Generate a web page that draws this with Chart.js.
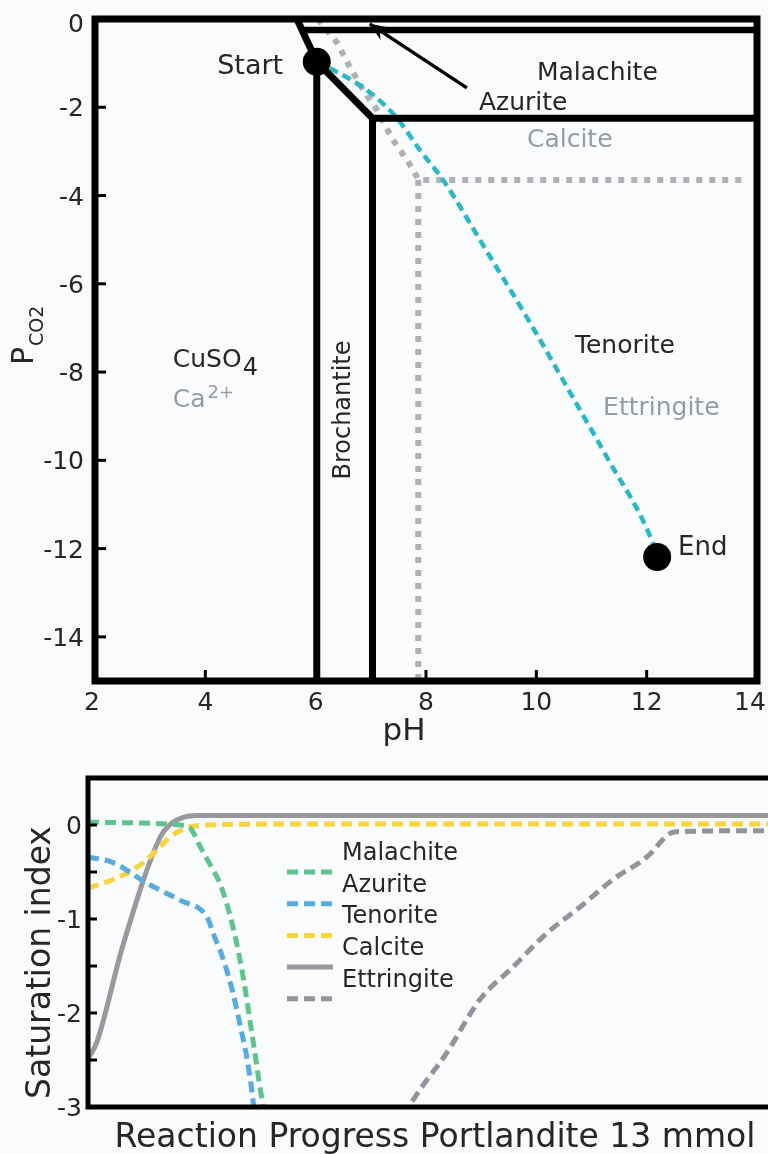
<!DOCTYPE html>
<html><head><meta charset="utf-8">
<script src="https://cdn.jsdelivr.net/npm/chart.js@4/dist/chart.umd.min.js"></script>
<style>
html,body{margin:0;padding:0;background:#fafbfc;overflow:hidden;width:768px;height:1154px;}
#c1{position:absolute;left:0;top:0;}
#c2{position:absolute;left:0;top:760px;}
</style></head><body>
<canvas id="c1" width="772" height="760"></canvas>
<canvas id="c2" width="768" height="394"></canvas>
<script>
// ---------- top chart: phase diagram (pH vs log PCO2) ----------
const pHTicks = [2, 4, 6, 8, 10, 12, 14];
const pco2Ticks = [0, -2, -4, -6, -8, -10, -12, -14];

// black copper phase boundaries
const cuTopPH = [5.66, 6.02];           const cuTopP = [0, -0.97];
const azMalPH = [5.75, 14];             const azMalP = [-0.25, -0.25];
const brochLeftPH = [6.02, 6.02];       const brochLeftP = [-0.97, -15];
const brochTopPH = [6.02, 7.03, 14];    const brochTopP = [-0.97, -2.25, -2.25];
const brochRightPH = [7.03, 7.03];      const brochRightP = [-2.25, -15];
// grey dotted calcium phase boundaries
const caDiagPH = [6.04, 6.39, 6.62, 6.86, 7.11, 7.40, 7.66, 7.87, 13.82];
const caDiagP  = [0, -0.54, -1.09, -1.61, -2.06, -2.74, -3.20, -3.65, -3.65];
const caVertPH = [7.86, 7.86];          const caVertP = [-3.65, -15];
// reaction path (cyan)
const pathPH = [6.02, 6.21, 6.62, 7.04, 7.47, 7.89, 8.31, 9.11, 9.89, 10.66, 11.28, 12.11, 12.19];
const pathP  = [-0.97, -1.09, -1.36, -1.72, -2.24, -2.97, -3.65, -5.28, -6.89, -8.57, -9.93, -11.87, -12.19];
// start / end markers
const markerPH = [6.02, 12.19];         const markerP = [-0.97, -12.19];
// arrow pointing at the azurite field
const arrowPH = [8.74, 6.98];           const arrowP = [-1.56, -0.11];

// ---------- bottom chart: saturation index vs reaction progress ----------
const siTicks = [0, -1, -2, -3];
const siTickMarks = [0, -0.5, -1, -1.5, -2, -2.5];
const legendLabels = ['Malachite', 'Azurite', 'Tenorite', 'Calcite', 'Ettringite'];

const malachiteX = [0, 8, 13.5, 15, 16.5, 18.4, 19.4, 21.3, 22.8, 24.3, 25.6, 26.2];
const malachiteY = [0.03, 0.02, 0.0, -0.03, -0.23, -0.48, -0.62, -1.08, -1.61, -2.31, -2.92, -3.1];
const azuriteX = [0, 3.7, 8.7, 13.5, 17.5, 18.4, 19.9, 21.3, 22.4, 23.4, 24.3, 24.5];
const azuriteY = [-0.34, -0.40, -0.62, -0.80, -0.98, -1.15, -1.43, -1.78, -2.14, -2.49, -2.95, -3.1];
const tenoriteX = [0, 3.7, 7.2, 10.1, 12, 14.6, 17.5, 30, 100];
const tenoriteY = [-0.67, -0.58, -0.45, -0.27, -0.13, -0.03, 0.0, 0.01, 0.01];
const calciteX = [0, 1.3, 5.1, 10.6, 12, 14, 16, 100];
const calciteY = [-2.49, -2.31, -1.29, -0.13, 0.0, 0.08, 0.1, 0.1];
const ettringiteX = [46.5, 47.6, 52.8, 57.6, 62.5, 67.5, 72.4, 77.2, 82.2, 85.6, 87, 100];
const ettringiteY = [-3.1, -2.95, -2.42, -1.86, -1.51, -1.15, -0.87, -0.58, -0.34, -0.09, -0.07, -0.06];

// ---------- styling ----------
const FONT = 'DejaVu Sans';
const INK = '#262626';
const GREYTXT = '#979ca2';
const CYAN = '#2bb7c6';
const DOTGREY = '#b0b1b4';

const pts = (xs, ys) => xs.map((x, i) => ({x: x, y: ys[i]}));

function lineDs(label, xs, ys, color, width, dash, extra) {
  return Object.assign({
    label: label, data: pts(xs, ys), showLine: true, pointRadius: 0,
    borderColor: color, backgroundColor: color, borderWidth: width,
    borderDash: dash || [], borderCapStyle: 'butt', borderJoinStyle: 'miter', tension: 0
  }, extra || {});
}

function txt(ctx, s, x, y, size, color, align, baseline) {
  ctx.font = size + 'px "' + FONT + '"';
  ctx.fillStyle = color;
  ctx.textAlign = align || 'left';
  ctx.textBaseline = baseline || 'alphabetic';
  ctx.fillText(s, x, y);
  return ctx.measureText(s).width;
}

const phaseLabels = [
  {text: 'Start', pH: 5.41, p: -1.25, color: INK, align: 'right', size: 27},
  {text: 'Malachite', pH: 10.01, p: -1.38, color: INK, align: 'left', size: 25},
  {text: 'Azurite', pH: 8.96, p: -2.06, color: INK, align: 'left', size: 25},
  {text: 'Calcite', pH: 9.83, p: -2.90, color: GREYTXT, align: 'left', size: 25},
  {text: 'Tenorite', pH: 10.70, p: -7.57, color: INK, align: 'left', size: 25},
  {text: 'Ettringite', pH: 11.21, p: -8.97, color: GREYTXT, align: 'left', size: 25},
  {text: 'End', pH: 12.57, p: -12.15, color: INK, align: 'left', size: 26}
];

const topDecor = {
  id: 'topDecor',
  afterDatasetsDraw(chart) {
    const ctx = chart.ctx;
    const meta = chart.getDatasetMeta(1);
    const a = meta.data[0], b = meta.data[1];
    const ang = Math.atan2(b.y - a.y, b.x - a.x);
    const L = 18, W = 7.5;
    const cx = Math.cos(ang), sy = Math.sin(ang);
    ctx.save();
    ctx.fillStyle = '#000';
    ctx.beginPath();
    ctx.moveTo(b.x, b.y);
    ctx.lineTo(b.x - L * cx - W * sy, b.y - L * sy + W * cx);
    ctx.lineTo(b.x - 0.65 * L * cx, b.y - 0.65 * L * sy);
    ctx.lineTo(b.x - L * cx + W * sy, b.y - L * sy - W * cx);
    ctx.closePath();
    ctx.fill();
    ctx.restore();
  },
  afterDraw(chart) {
    const ctx = chart.ctx, ca = chart.chartArea;
    const xs = chart.scales.x, ys = chart.scales.y;
    ctx.save();
    // tick marks (inward)
    ctx.strokeStyle = '#000'; ctx.lineWidth = 3;
    pHTicks.slice(1, -1).forEach(v => {
      const px = xs.getPixelForValue(v);
      ctx.beginPath(); ctx.moveTo(px, ca.bottom); ctx.lineTo(px, ca.bottom - 11); ctx.stroke();
    });
    pco2Ticks.slice(1).forEach(v => {
      const py = ys.getPixelForValue(v);
      ctx.beginPath(); ctx.moveTo(ca.left, py); ctx.lineTo(ca.left + 11, py); ctx.stroke();
    });
    // tick labels (edge labels nudged inward, as in the original)
    pHTicks.forEach((v, i) => {
      let px = xs.getPixelForValue(v);
      if (i === 0) px -= 3;
      if (i === pHTicks.length - 1) px -= 7;
      txt(ctx, String(v), px, ca.bottom + 29, 25, INK, 'center');
    });
    pco2Ticks.forEach((v, i) => txt(ctx, String(v), ca.left - 11, ys.getPixelForValue(v) + 9 + (i === 0 ? 4 : 0), 25, INK, 'right'));
    // frame
    ctx.lineWidth = 7; ctx.strokeStyle = '#000'; ctx.lineJoin = 'miter';
    ctx.strokeRect(ca.left, ca.top, ca.right - ca.left, ca.bottom - ca.top);
    // phase labels
    phaseLabels.forEach(l => {
      txt(ctx, l.text, xs.getPixelForValue(l.pH), ys.getPixelForValue(l.p), l.size, l.color, l.align);
    });
    // CuSO4 / Ca2+
    let x0 = xs.getPixelForValue(3.41), y0 = ys.getPixelForValue(-7.89);
    let w = txt(ctx, 'CuSO', x0, y0, 25, INK);
    txt(ctx, '4', x0 + w + 1, y0 + 8, 24, INK);
    let y1 = ys.getPixelForValue(-8.79);
    w = txt(ctx, 'Ca', x0, y1, 25, GREYTXT);
    txt(ctx, '2+', x0 + w + 2, y1 - 9, 18, GREYTXT);
    // Brochantite (vertical)
    ctx.save();
    ctx.translate(xs.getPixelForValue(6.62), ys.getPixelForValue(-8.86));
    ctx.rotate(-Math.PI / 2);
    txt(ctx, 'Brochantite', 0, 0, 24, INK, 'center', 'alphabetic');
    ctx.restore();
    // y title P_CO2
    ctx.save();
    ctx.translate(ca.left - 62, (ca.top + ca.bottom) / 2 + 15);
    ctx.rotate(-Math.PI / 2);
    w = txt(ctx, 'P', 0, 0, 30, INK);
    txt(ctx, 'CO2', w + 1, 10, 19, INK);
    ctx.restore();
    // x title
    txt(ctx, 'pH', ca.left + 309, ca.bottom + 59, 31, INK, 'center');
    ctx.restore();
  }
};

new Chart(document.getElementById('c1'), {
  type: 'scatter',
  data: {
    datasets: [
      {label: 'Start/End', data: pts(markerPH, markerP), pointRadius: 14, pointBackgroundColor: '#000',
       pointBorderColor: '#000', pointBorderWidth: 0, showLine: false},
      lineDs('arrow', arrowPH, arrowP, '#000', 3.5),
      lineDs('CuSO4 boundary', cuTopPH, cuTopP, '#000', 7),
      lineDs('Azurite/Malachite', azMalPH, azMalP, '#000', 6.5),
      lineDs('Brochantite left', brochLeftPH, brochLeftP, '#000', 7),
      lineDs('Brochantite top', brochTopPH, brochTopP, '#000', 7),
      lineDs('Brochantite right', brochRightPH, brochRightP, '#000', 7),
      lineDs('Reaction path', pathPH, pathP, CYAN, 4.5, [9, 5.5], {cubicInterpolationMode: 'monotone'}),
      lineDs('Ca boundary', caDiagPH, caDiagP, DOTGREY, 6, [6, 7]),
      lineDs('Ca boundary vertical', caVertPH, caVertP, DOTGREY, 6, [6, 7])
    ]
  },
  options: {
    responsive: false, animation: false,
    layout: {padding: {top: 19, right: 15, left: 95, bottom: 79}},
    plugins: {legend: {display: false}, tooltip: {enabled: false}},
    scales: {
      x: {type: 'linear', min: 2, max: 14, display: false},
      y: {type: 'linear', min: -15, max: 0, display: false}
    }
  },
  plugins: [topDecor]
});

// ---------- bottom chart ----------
const GREEN = '#5ec38d', BLUE = '#56abe0', YELLOW = '#f8d43e', GREY = '#97999c', GREYD = '#929497';

const botDecor = {
  id: 'botDecor',
  afterDraw(chart) {
    const ctx = chart.ctx, ca = chart.chartArea, ys = chart.scales.y;
    ctx.save();
    ctx.strokeStyle = '#000';
    ctx.lineWidth = 3;
    siTickMarks.forEach(v => {
      const py = ys.getPixelForValue(v);
      ctx.beginPath(); ctx.moveTo(ca.left, py); ctx.lineTo(ca.left + 9, py); ctx.stroke();
    });
    siTicks.forEach(v => txt(ctx, String(v), ca.left - 6, ys.getPixelForValue(v) + 9, 25, INK, 'right'));
    ctx.lineWidth = 5;
    ctx.beginPath();
    ctx.moveTo(chart.width, ca.top); ctx.lineTo(ca.left, ca.top);
    ctx.lineTo(ca.left, ca.bottom); ctx.lineTo(chart.width, ca.bottom);
    ctx.stroke();
    // legend (symbols sit half a row below their labels, as in the original)
    chart.data.datasets.forEach((ds, i) => {
      const sy = ca.top + 94 + i * 31.7;
      ctx.strokeStyle = ds.borderColor; ctx.lineWidth = 5;
      ctx.setLineDash(ds.borderDash || []);
      ctx.lineCap = 'butt';
      ctx.beginPath(); ctx.moveTo(ca.left + 199, sy); ctx.lineTo(ca.left + 245, sy); ctx.stroke();
    });
    ctx.setLineDash([]);
    legendLabels.forEach((l, i) => {
      txt(ctx, l, ca.left + 254, ca.top + 82 + i * 31.7, 24, INK);
    });
    // axis titles
    ctx.save();
    ctx.translate(ca.left - 38, (ca.top + ca.bottom) / 2 + 20);
    ctx.rotate(-Math.PI / 2);
    txt(ctx, 'Saturation index', 0, 0, 33, INK, 'center');
    ctx.restore();
    txt(ctx, 'Reaction Progress Portlandite 13 mmol', ca.left + 347, ca.bottom + 40, 33, INK, 'center');
    ctx.restore();
  }
};

new Chart(document.getElementById('c2'), {
  type: 'scatter',
  data: {
    datasets: [
      lineDs('Malachite', malachiteX, malachiteY, GREEN, 5, [11, 6], {cubicInterpolationMode: 'monotone'}),
      lineDs('Azurite', azuriteX, azuriteY, BLUE, 5, [11, 6], {cubicInterpolationMode: 'monotone'}),
      lineDs('Tenorite', tenoriteX, tenoriteY, YELLOW, 5, [11, 6], {cubicInterpolationMode: 'monotone'}),
      lineDs('Calcite', calciteX, calciteY, GREY, 5, [], {cubicInterpolationMode: 'monotone'}),
      lineDs('Ettringite', ettringiteX, ettringiteY, GREYD, 5, [11, 6], {cubicInterpolationMode: 'monotone'})
    ]
  },
  options: {
    responsive: false, animation: false,
    layout: {padding: {top: 18, right: 0, left: 88, bottom: 47}},
    plugins: {legend: {display: false}, tooltip: {enabled: false}},
    scales: {
      x: {type: 'linear', min: 0, max: 100, display: false},
      y: {type: 'linear', min: -3, max: 0.5, display: false}
    }
  },
  plugins: [botDecor]
});
</script>
</body></html>
